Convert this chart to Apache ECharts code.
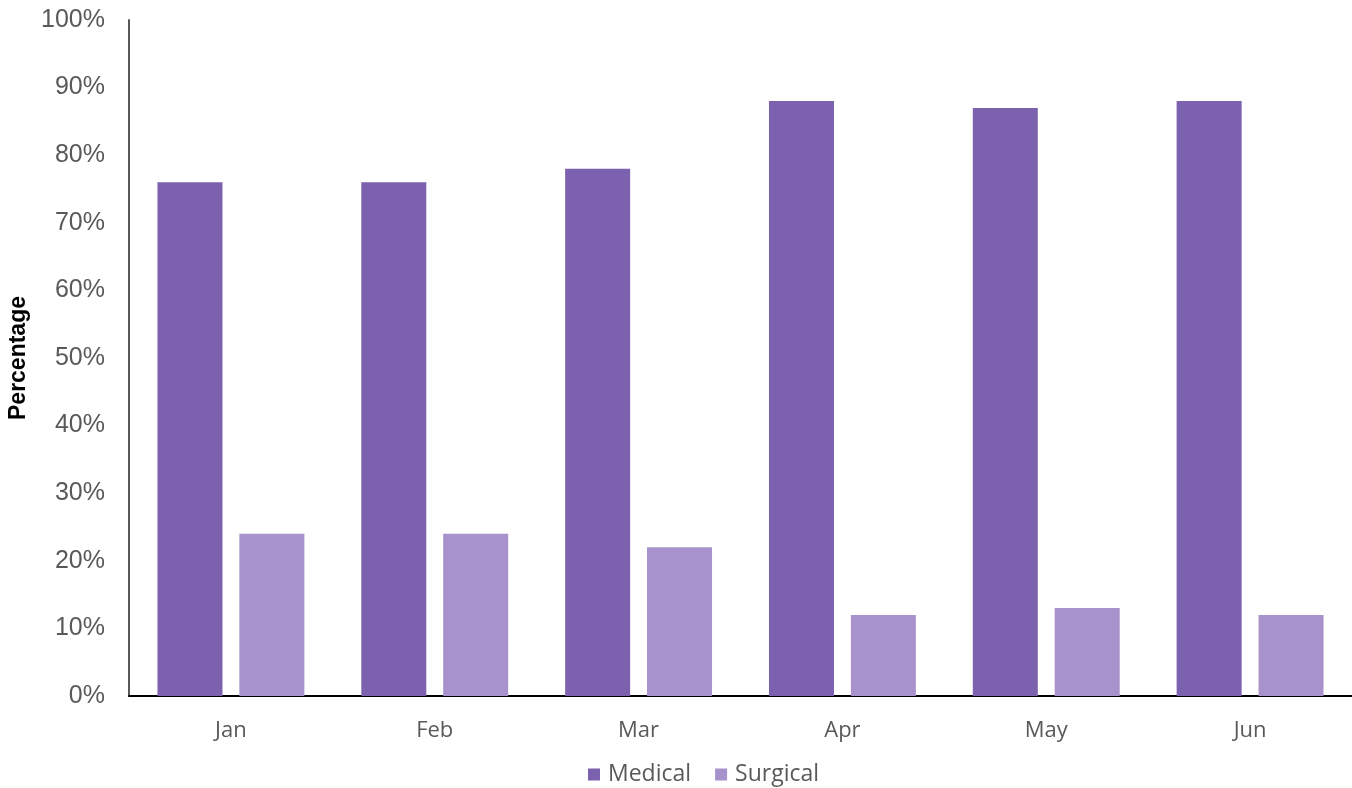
<!DOCTYPE html>
<html>
<head>
<meta charset="utf-8">
<script src="https://cdn.jsdelivr.net/npm/echarts@6/dist/echarts.min.js"></script>
<style>
  html, body { margin: 0; padding: 0; background: #fff; }
  #chart { width: 1352px; height: 788px; }
</style>
</head>
<body>
<div id="chart"></div>
<script>
// Monthly share of admissions by service line (percent)
const months = ['Jan', 'Feb', 'Mar', 'Apr', 'May', 'Jun'];
const medical = [76, 76, 78, 88, 87, 88];
const surgical = [24, 24, 22, 12, 13, 12];
const seriesNames = ['Medical', 'Surgical'];

const chart = echarts.init(document.getElementById('chart'));
chart.setOption({
  animation: false,
  grid: { left: 129, right: 0, top: 20, bottom: 92, outerBoundsMode: 'none', containLabel: false },
  legend: {
    top: 758,
    left: 583,
    itemWidth: 12,
    itemHeight: 12,
    itemGap: 24,
    icon: 'rect',
    textStyle: { fontFamily: 'Open Sans', fontSize: 23, color: '#595959', padding: [0, 0, 0, 3] },
    data: seriesNames
  },
  xAxis: {
    type: 'category',
    data: months,
    axisLine: { lineStyle: { color: '#000', width: 2 } },
    axisTick: { show: false },
    axisLabel: { fontFamily: 'Open Sans', fontSize: 22, color: '#595959', margin: 24 }
  },
  yAxis: {
    type: 'value',
    min: 0,
    max: 100,
    interval: 10,
    name: 'Percentage',
    nameLocation: 'middle',
    nameGap: 90,
    nameRotate: 90,
    nameTextStyle: { fontFamily: 'Liberation Sans', fontSize: 23, fontWeight: 'bold', color: '#000' },
    axisLine: { show: true, lineStyle: { color: '#595959', width: 2 } },
    axisTick: { show: false },
    splitLine: { show: false },
    axisLabel: {
      fontFamily: 'Liberation Sans',
      fontSize: 25,
      color: '#595959',
      margin: 24,
      formatter: '{value}%'
    }
  },
  series: [
    {
      name: seriesNames[0],
      type: 'bar',
      data: medical,
      barWidth: 65,
      barGap: '26%',
      itemStyle: { color: '#7B61AE' }
    },
    {
      name: seriesNames[1],
      type: 'bar',
      data: surgical,
      barWidth: 65,
      itemStyle: { color: '#A792CB' }
    }
  ]
});
</script>
</body>
</html>
